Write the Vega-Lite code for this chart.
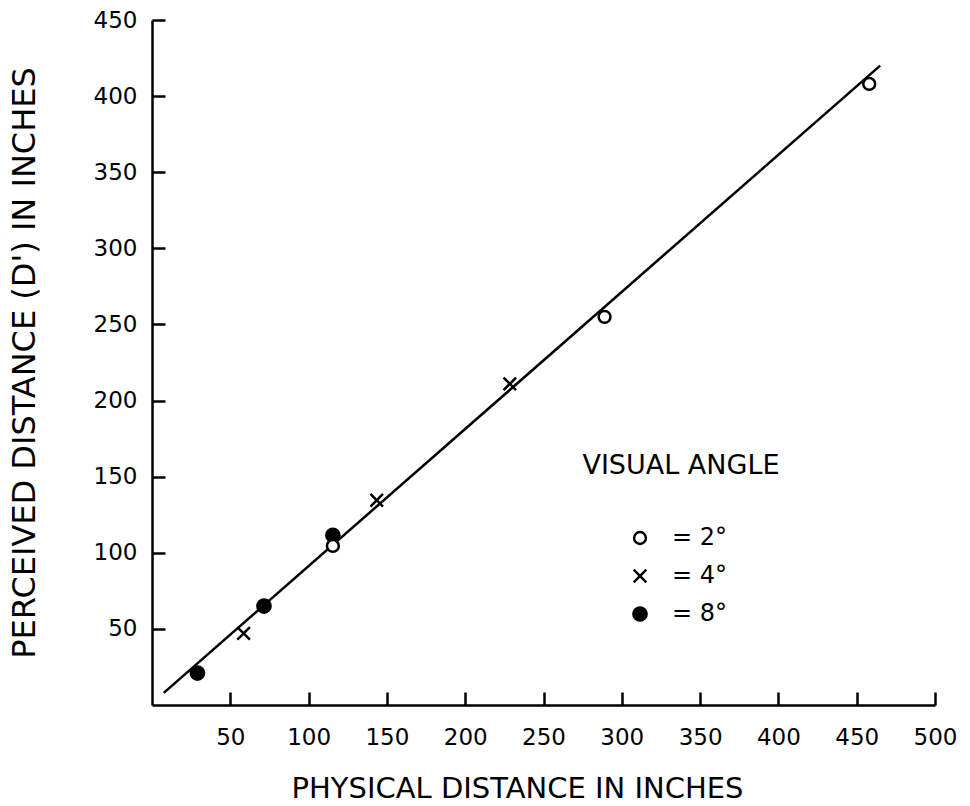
{
  "$schema": "https://vega.github.io/schema/vega-lite/v6.json",
  "width": 783,
  "height": 685,
  "autosize": {"type": "none"},
  "padding": {"left": 152, "top": 20, "right": 35, "bottom": 101},
  "background": "white",
  "config": {
    "view": {"stroke": null},
    "font": "DejaVu Sans",
    "axis": {
      "grid": false,
      "domainColor": "black",
      "domainWidth": 2.5,
      "tickColor": "black",
      "tickWidth": 2.5,
      "tickSize": -13,
      "labelColor": "black",
      "labelFont": "DejaVu Sans",
      "labelFontSize": 23,
      "labelFlush": false,
      "labelOverlap": false,
      "titleColor": "black",
      "titleFont": "DejaVu Sans",
      "titleFontWeight": "normal"
    }
  },
  "datasets": {
    "fit": [
      {"x": 7.5, "y": 8},
      {"x": 465, "y": 420}
    ],
    "points": [
      {"x": 29, "y": 21, "angle": "8"},
      {"x": 58.5, "y": 47, "angle": "4"},
      {"x": 71.5, "y": 65, "angle": "8"},
      {"x": 115.5, "y": 111.5, "angle": "8"},
      {"x": 115.5, "y": 104.5, "angle": "2"},
      {"x": 143.5, "y": 134.5, "angle": "4"},
      {"x": 228.5, "y": 211, "angle": "4"},
      {"x": 289, "y": 255, "angle": "2"},
      {"x": 458, "y": 408, "angle": "2"}
    ]
  },
  "layer": [
    {
      "data": {"name": "fit"},
      "mark": {"type": "line", "color": "black", "strokeWidth": 2.5},
      "encoding": {
        "x": {
          "field": "x",
          "type": "quantitative",
          "scale": {"domain": [0, 500], "nice": false, "zero": false},
          "axis": {
            "values": [50, 100, 150, 200, 250, 300, 350, 400, 450, 500],
            "labelPadding": 34,
            "title": "PHYSICAL DISTANCE IN INCHES",
            "titleFontSize": 29,
            "titlePadding": 25,
            "titleX": 365,
            "titleAlign": "center"
          }
        },
        "y": {
          "field": "y",
          "type": "quantitative",
          "scale": {"domain": [0, 450], "nice": false, "zero": false},
          "axis": {
            "values": [50, 100, 150, 200, 250, 300, 350, 400, 450],
            "labelPadding": 28,
            "title": "PERCEIVED DISTANCE (D') IN INCHES",
            "titleFontSize": 32,
            "titlePadding": 52
          }
        }
      }
    },
    {
      "data": {"name": "points"},
      "mark": {"type": "point", "filled": true, "stroke": "black", "strokeWidth": 2.5, "opacity": 1},
      "encoding": {
        "x": {"field": "x", "type": "quantitative"},
        "y": {"field": "y", "type": "quantitative"},
        "shape": {
          "field": "angle",
          "type": "nominal",
          "title": "VISUAL ANGLE",
          "scale": {"domain": ["2", "4", "8"], "range": ["circle", "M-1,-1L1,1M-1,1L1,-1", "circle"]},
          "legend": {
            "orient": "none",
            "legendX": 430,
            "legendY": 433,
            "titleAnchor": "middle",
            "titleLimit": 400,
            "titleFontSize": 27,
            "titleFontWeight": "normal",
            "titleColor": "black",
            "titlePadding": 46,
            "labelFontSize": 24,
            "labelColor": "black",
            "labelOffset": 20,
            "rowPadding": 14,
            "symbolStrokeColor": "black",
            "symbolStrokeWidth": 2.5,
            "labelExpr": "'=  ' + datum.label + '°'"
          }
        },
        "fill": {
          "field": "angle",
          "type": "nominal",
          "title": "VISUAL ANGLE",
          "scale": {"domain": ["2", "4", "8"], "range": ["white", "transparent", "black"]}
        },
        "size": {
          "field": "angle",
          "type": "nominal",
          "title": "VISUAL ANGLE",
          "scale": {"domain": ["2", "4", "8"], "range": [140, 175, 180]}
        }
      }
    }
  ]
}
